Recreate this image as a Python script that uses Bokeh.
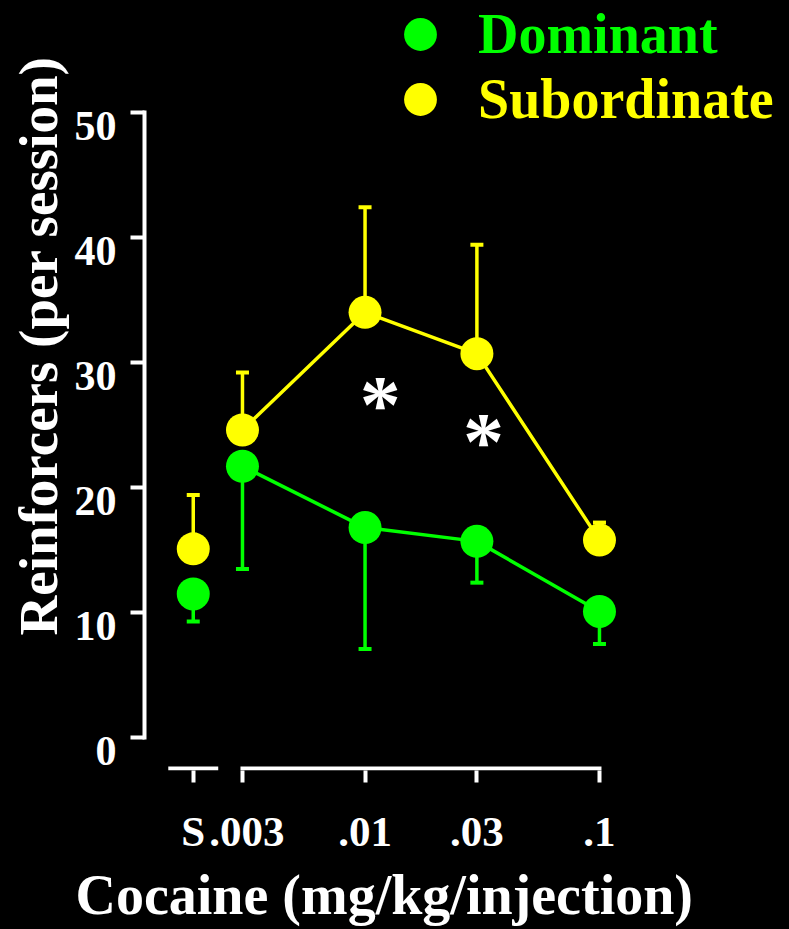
import numpy as np
from bokeh.plotting import figure
from bokeh.models import (Range1d, LinearAxis, FixedTicker, Whisker, TeeHead,
                          ColumnDataSource, Legend, LegendItem, Title)
from bokeh.embed import file_html
from bokeh.resources import INLINE
from bokeh.core.properties import value

# ---------------- data ----------------
dose_labels = ["S", ".003", ".01", ".03", ".1"]
dose_pos = [0.00185, 0.003, 0.01, 0.03, 0.1]      # S = saline, drawn left of the dose scale
dom_mean = [11.5, 21.7, 16.8, 15.7, 10.1]
dom_lower = [9.3, 13.5, 7.1, 12.4, 7.5]
sub_mean = [15.1, 24.6, 34.0, 30.7, 15.8]
sub_upper = [19.4, 29.2, 42.4, 39.4, 17.2]
sig_x = [0.0116, 0.032]
sig_y = [27.4, 24.5]
y_ticks = [0, 10, 20, 30, 40, 50]

GREEN = "#00ff00"
YELLOW = "#ffff00"
WHITE = "#ffffff"
FONT = "Liberation Serif"

Y0, Y1 = -2.61, 58.92
p = figure(width=789, height=929, x_axis_type="log",
           x_range=Range1d(0.001146, 0.6466), y_range=Range1d(Y0, Y1),
           output_backend="svg", toolbar_location=None,
           min_border_left=144, min_border_right=0, min_border_top=0, min_border_bottom=158,
           background_fill_color=None, border_fill_color=None, outline_line_color=None)
p.styles = {"background-color": "black"}
p.grid.visible = False

# ---- y axis: line + ticks ----
ya = p.yaxis[0]
ya.ticker = FixedTicker(ticks=y_ticks)
ya.bounds = (0, 50)
ya.axis_line_color = WHITE
ya.axis_line_width = 4
ya.axis_line_cap = "square"
ya.major_tick_line_color = WHITE
ya.major_tick_line_width = 4
ya.major_tick_out = 14
ya.major_tick_in = 0
ya.minor_tick_line_color = None
ya.major_label_overrides = {t: "" for t in y_ticks}
ya.major_label_standoff = 0

# ---- y axis: tick labels (top-aligned to their ticks) ----
shift = 1.08
p.extra_y_ranges = {"lab": Range1d(Y0 + shift, Y1 + shift)}
la = LinearAxis(y_range_name="lab", ticker=FixedTicker(ticks=y_ticks),
                axis_line_color=None, major_tick_line_color=None, minor_tick_line_color=None,
                major_tick_out=0, major_tick_in=0, major_label_standoff=14,
                major_label_text_font=FONT, major_label_text_font_size="42px",
                major_label_text_font_style="bold", major_label_text_color=WHITE)
p.add_layout(la, "left")

yt = Title(text="Reinforcers (per session)", align="left", offset=135,
           text_font=FONT, text_font_size="55px", text_font_style="bold",
           text_color=WHITE, standoff=6)
p.add_layout(yt, "left")

# ---- x axis ----
xa = p.xaxis[0]
xa.ticker = FixedTicker(ticks=dose_pos)
shown = [("\u2009" + l if l == ".003" else l) for l in dose_labels]
xa.major_label_overrides = {x: l for x, l in zip(dose_pos, shown)}
xa.axis_line_color = None
xa.major_tick_line_color = WHITE
xa.major_tick_line_width = 4
xa.major_tick_out = 12
xa.major_tick_in = 0
xa.minor_tick_line_color = None
xa.major_label_text_font = FONT
xa.major_label_text_font_size = "43px"
xa.major_label_text_font_style = "bold"
xa.major_label_text_color = WHITE
xa.major_label_standoff = 25

xt = Title(text="Cocaine (mg/kg/injection)", align="left", offset=-69,
           text_font=FONT, text_font_size="56px", text_font_style="bold",
           text_color=WHITE, standoff=8)
p.add_layout(xt, "below")

# broken x axis line: short piece under saline, long piece under the doses
axis_y = -2.45
half = 10 ** 0.098
p.segment(x0=[dose_pos[0] / half, dose_pos[1]], y0=[axis_y, axis_y],
          x1=[dose_pos[0] * half, dose_pos[-1]], y1=[axis_y, axis_y],
          line_color=WHITE, line_width=4, line_cap="square")

# ---- error bars ----
src_d = ColumnDataSource(dict(x=dose_pos, m=dom_mean, lo=dom_lower))
src_s = ColumnDataSource(dict(x=dose_pos, m=sub_mean, hi=sub_upper))
p.add_layout(Whisker(source=src_d, base="x", lower="lo", upper="m",
                     line_color=GREEN, line_width=3.5,
                     lower_head=TeeHead(size=13, line_color=GREEN, line_width=4),
                     upper_head=None))
p.add_layout(Whisker(source=src_s, base="x", lower="m", upper="hi",
                     line_color=YELLOW, line_width=3.5,
                     upper_head=TeeHead(size=13, line_color=YELLOW, line_width=4),
                     lower_head=None))

# ---- lines (doses only) ----
p.line(dose_pos[1:], sub_mean[1:], line_color=YELLOW, line_width=3.5)
p.line(dose_pos[1:], dom_mean[1:], line_color=GREEN, line_width=3.5)

# ---- markers ----
sc_s = p.scatter(dose_pos, sub_mean, size=33, fill_color=YELLOW, line_color=None)
sc_d = p.scatter(dose_pos, dom_mean, size=33, fill_color=GREEN, line_color=None)

# ---- significance asterisks ----
p.text(x=sig_x, y=sig_y, text=["*", "*"], text_font=value(FONT), text_font_size="82px",
       text_font_style="bold", text_color=WHITE, text_align="center",
       text_baseline="alphabetic", y_offset=10)

# ---- legends ----
def mk_legend(label, rend, color, loc):
    return Legend(items=[LegendItem(label=label, renderers=[rend])], location=loc,
                  glyph_width=82, glyph_height=82, padding=0, margin=0, spacing=0,
                  label_standoff=17, label_text_font=FONT, label_text_font_size="56px",
                  label_text_font_style="bold", label_text_color=color,
                  border_line_color=None, background_fill_alpha=0)

p.add_layout(mk_legend("Dominant", sc_d, GREEN, (235, 695)))
p.add_layout(mk_legend("Subordinate", sc_s, YELLOW, (235, 630)))

open("out.html", "w").write(file_html(p, INLINE))
